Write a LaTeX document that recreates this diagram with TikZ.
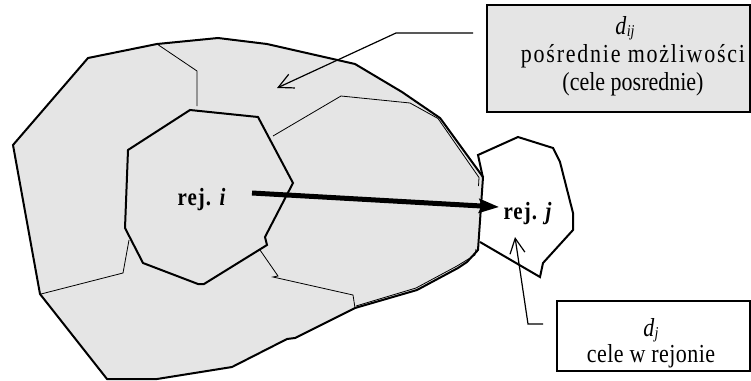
\documentclass[tikz,border=0pt]{standalone}
\usepackage{fontspec}
\usepackage{graphicx}
\setmainfont{Liberation Serif}
\usetikzlibrary{arrows.meta}
\definecolor{regiongray}{gray}{0.9}
\newcommand\lowsub[1]{\kern0.3pt\raisebox{-1.5pt}{\fontsize{14}{14}\selectfont\itshape #1}}
\newcommand\tracked[2]{{\addfontfeatures{LetterSpace=#1}#2}}
% the lettering is a little taller than it is wide
\newcommand\tall[1]{\scalebox{1}[1.18]{#1}}
\newcommand\lines[1]{\tall{\begin{tabular}{@{}c@{}}#1\end{tabular}}}
\begin{document}
\begin{tikzpicture}[x=1pt,y=-1pt,
  outline/.style={draw=black, line width=2pt, line join=miter},
  seam/.style={draw=black, line width=0.8pt},
  place/.style={font=\fontsize{21}{24}\selectfont\bfseries, inner sep=0pt},
  infobox/.style={draw=black, line width=1.1pt, inner sep=0pt},
  infotext/.style={inner sep=0pt},
  callout/.style={draw=black, line width=1.2pt, -{Straight Barb[length=15pt,width=15pt,line width=1.2pt]}},
  flow/.style={draw=black, line width=5pt, -{Stealth[length=20pt,width=14pt,inset=3pt]}}
]
\useasboundingbox (0,0) rectangle (751,380);

% whole area of intermediate regions
\fill[regiongray] (13,145) -- (88,58) -- (157,44) -- (218,38) -- (267,44) -- (355,64)
  -- (402,92) -- (440,118) -- (443,122) -- (483,177) -- (478,250) -- (467,262)
  -- (458,268) -- (417,290) -- (355,308) -- (295,338) -- (287,339) -- (232,367)
  -- (157,379) -- (107,379) -- (40,294) -- cycle;

% seams between neighbouring regions
\draw[seam] (157,44) -- (197,71) -- (197,106);
\draw[seam] (273,136) -- (341,96) -- (410,103) -- (438,118.5) -- (479,177.5) -- (478.5,186);
\draw[seam] (260,250) -- (278,276) -- (273,277) -- (353,295) -- (355,308);
\draw[seam] (476,249) -- (475,255) -- (457,266) -- (416,288) -- (356,306);
\draw[seam] (129,240) -- (123,273) -- (41,294);

% outer boundary
\draw[outline] (13,145) -- (88,58) -- (157,44) -- (218,38) -- (267,44) -- (355,64)
  -- (402,92) -- (440,118) -- (443,122) -- (483,177) -- (478,250) -- (467,262)
  -- (458,268) -- (417,290) -- (355,308) -- (295,338) -- (287,339) -- (232,367)
  -- (157,379) -- (107,379) -- (40,294) -- cycle;

% origin region i
\draw[outline] (190,110) -- (258,117) -- (293,183) -- (265,237) -- (267,245)
  -- (204,284) -- (198,284) -- (143,263) -- (125,228) -- (128,150) -- cycle;

% destination region j
\draw[outline] (483,178) -- (478,155) -- (518,137) -- (553,148) -- (560,162)
  -- (573,213) -- (573,230) -- (543,263) -- (540,277) -- (480,242);

% region labels
\node[place, anchor=base] (ri) at (202,205) {\tall{\tracked{5}{rej. \textit{i}}}};
\node[place, anchor=base] (rj) at (528,219) {\tall{\tracked{5}{rej. \textit{j}}}};

% trip from i to j
\coordinate (from) at (252,193);
\coordinate (to) at (499,207);
\draw[flow] (from) -- (to);

% box of intermediate opportunities
\node[infobox, fill=regiongray, minimum width=263pt, minimum height=107pt] (b1) at (618.5,58.5) {};
\node[infotext, font=\fontsize{22}{23.5}\selectfont] (t1) at (633,57)
  {\lines{\textit{d}\lowsub{ij}\hspace*{16pt}\\\tracked{8}{pośrednie możliwości}\\(cele posrednie)}};
\coordinate (k1) at (473,33);
\coordinate (e1) at (396,33);
\coordinate (h1) at (277,88);
\draw[callout] (k1) -- (e1) -- (h1);

% box of destinations in the region
\node[infobox, fill=white, minimum width=193pt, minimum height=70pt] (b2) at (653.5,336) {};
\node[infotext, font=\fontsize{22}{20}\selectfont] (t2) at (651,344)
  {\lines{\textit{d}\lowsub{j}\\\tracked{2}{cele w rejonie}}};
\coordinate (k2) at (543,324);
\coordinate (e2) at (528,324);
\coordinate (h2) at (515,237);
\draw[callout] (k2) -- (e2) -- (h2);
\end{tikzpicture}
\end{document}
